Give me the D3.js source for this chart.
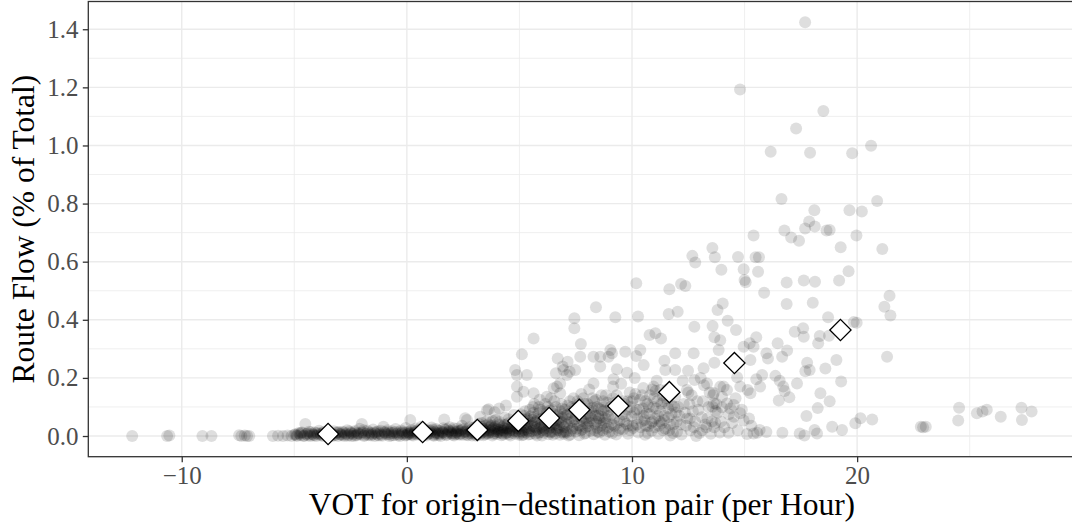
<!DOCTYPE html>
<html>
<head>
<meta charset="utf-8">
<script src="https://cdn.jsdelivr.net/npm/d3@7"></script>
<style>
  html, body { margin: 0; padding: 0; background: #fff; }
  svg { display: block; }
</style>
</head>
<body>
<svg id="chart" width="1072" height="530"></svg>
<script>
// Axis ticks
const xTicks = [-10, 0, 10, 20];
const xMinorTicks = [-5, 5, 15, 25];
const yTicks = [0, 0.2, 0.4, 0.6, 0.8, 1.0, 1.2, 1.4];
const yMinorTicks = [0.1, 0.3, 0.5, 0.7, 0.9, 1.1, 1.3];

// Origin-destination pairs: [VOT per hour, route flow % of total]
// Pairs with negative VOT
const negVotPairs = [
  [-12.2,0],[-10.65,0],[-10.55,0.002],[-9.08,0],[-8.68,0],[-7.45,0.003],[-7.35,0],[-7.2,0.002],[-7.1,0],[-7.0,0],
  [-5.95,0],[-5.72,0.001],[-5.5,0],[-5.3,0.002],[-5.12,0],[-5.0,0.004],
  [-4.95,0.006],[-4.88,0],[-4.8,0.01],[-4.72,0.003],[-4.65,0.012],[-4.6,0],[-4.51,0.041],[-4.47,0.007],[-4.4,0.002],
  [-4.35,0.015],[-4.28,0],[-4.2,0.008],[-4.15,0.004],[-4.08,0.012],[-4.02,0],[-3.95,0.006],[-3.9,0.018],[-3.82,0.002],
  [-3.75,0.01],[-3.7,0],[-3.62,0.005],[-3.55,0.014],[-3.48,0.002],[-3.4,0.009],[-3.33,0],[-3.25,0.016],[-3.18,0.004],
  [-3.1,0.011],[-3.05,0],[-2.98,0.007],[-2.9,0.003],[-2.85,0.015],[-2.78,0],[-2.7,0.009],[-2.65,0.02],[-2.58,0.004],
  [-2.5,0.012],[-2.45,0],[-2.38,0.007],[-2.3,0.017],[-2.25,0.002],[-2.18,0.01],[-2.1,0.025],[-2.05,0.005],[-2.0,0.041],
  [-1.95,0.013],[-1.9,0],[-1.82,0.008],[-1.75,0.019],[-1.7,0.003],[-1.62,0.011],[-1.55,0.006],[-1.5,0.022],[-1.42,0],
  [-1.35,0.014],[-1.3,0.004],[-1.22,0.009],[-1.15,0.018],[-1.1,0.001],[-1.04,0.032],[-0.98,0.012],[-0.9,0.005],
  [-0.85,0.02],[-0.78,0],[-0.7,0.01],[-0.65,0.016],[-0.58,0.003],[-0.5,0.024],[-0.45,0.008],[-0.38,0.013],[-0.3,0],
  [-0.25,0.019],[-0.18,0.006],[-0.1,0.011],[-0.05,0.028],
  [-3.3,0.006],[-3.0,0.013],[-2.75,0.004],[-2.55,0.016],[-2.35,0.001],[-2.15,0.008],[-1.92,0.02],[-1.68,0.007],
  [-1.45,0.012],[-1.25,0.002],[-1.0,0.015],[-0.8,0.006],[-0.6,0.01],[-0.4,0.002],[-0.2,0.015],[-4.75,0.007],
  [-4.3,0.005],[-3.85,0.009],
  [-4.9,0.003],[-4.7,0.011],[-4.55,0.001],[-4.42,0.009],[-4.25,0.014],[-4.12,0.002],[-3.98,0.01],[-3.8,0.005],
  [-3.68,0.015],[-3.52,0.004],[-3.38,0.01],[-3.22,0.002],[-3.08,0.014],[-2.92,0.006],[-2.8,0.012],[-2.62,0.001],
  [-2.48,0.009],[-2.32,0.013],[-2.2,0.004],[-2.02,0.011],[-1.88,0.003],[-1.72,0.014],[-1.58,0.002],[-1.4,0.009],
  [-1.28,0.016],[-1.12,0.004],[-0.95,0.009],[-0.82,0.013],[-0.68,0.002],[-0.52,0.014],[-0.35,0.006],[-0.22,0.01],
  [-0.08,0.002]
];

// Pairs with VOT from 0 to 7
const lowVotPairs = [
  [0.0,0.003],[0.05,0.015],[0.1,0.007],[0.15,0.055],[0.2,0.02],[0.28,0.002],[0.33,0.011],[0.4,0.026],[0.45,0.005],
  [0.52,0.016],[0.58,0.009],[0.65,0.032],[0.7,0.001],[0.78,0.013],[0.85,0.021],[0.9,0.006],[0.97,0.017],[1.05,0.01],
  [1.1,0.029],[1.18,0.003],[1.25,0.014],[1.3,0.024],[1.38,0.008],[1.45,0.018],[1.5,0],[1.58,0.012],[1.66,0.057],
  [1.7,0.022],[1.78,0.005],[1.85,0.016],[1.9,0.03],[1.98,0.009],[2.05,0.019],[2.1,0.002],[2.18,0.013],[2.25,0.026],
  [2.3,0.007],[2.38,0.017],[2.45,0.035],[2.5,0.004],[2.59,0.061],[2.62,0.014],[2.7,0.023],[2.75,0.009],[2.82,0.018],
  [2.9,0.002],[2.95,0.028],[2.67,0.055],
  [0.12,0.009],[0.35,0.018],[0.6,0.004],[0.82,0.012],[1.02,0.02],[1.22,0.006],[1.42,0.01],[1.62,0.027],[1.82,0.011],
  [2.02,0.004],[2.22,0.015],[2.42,0.021],[2.65,0.004],[2.85,0.011],
  [0.08,0.012],[0.22,0.004],[0.38,0.015],[0.5,0.008],[0.68,0.019],[0.75,0.003],[0.92,0.011],[1.08,0.016],[1.2,0.001],
  [1.35,0.02],[1.48,0.007],[1.6,0.013],[1.75,0.003],[1.88,0.019],[2.0,0.01],[2.15,0.006],[2.28,0.018],[2.4,0.009],
  [2.55,0.013],[2.72,0.003],[2.88,0.02],
  [0.02,0.006],[0.18,0.013],[0.3,0.007],[0.48,0.021],[0.62,0.012],[0.75,0.024],[0.88,0.002],[1.0,0.008],[1.15,0.022],
  [1.28,0.01],[1.4,0.003],[1.55,0.016],[1.68,0.008],[1.8,0.024],[1.95,0.015],[2.08,0.027],[2.2,0.009],[2.35,0.004],
  [2.48,0.024],[2.6,0.016],[2.78,0.03],[2.92,0.008],
  [3.0,0.012],[3.05,0.03],[3.1,0.005],[3.15,0.019],[3.2,0.042],[3.26,0.066],[3.3,0.01],[3.35,0.025],[3.4,0.003],
  [3.45,0.016],[3.5,0.036],[3.56,0.089],[3.6,0.008],[3.63,0.092],[3.65,0.021],[3.7,0.047],[3.75,0.013],[3.8,0.002],
  [3.85,0.028],[3.9,0.017],[3.95,0.055],[4.0,0.007],[4.05,0.022],[4.1,0.038],[4.15,0.011],[4.2,0.003],[4.25,0.031],
  [4.3,0.018],[4.35,0.063],[4.4,0.009],[4.45,0.024],[4.5,0.044],[4.55,0.014],[4.6,0.002],[4.65,0.034],[4.7,0.019],
  [4.75,0.072],[4.8,0.008],[4.85,0.027],[4.9,0.05],[4.95,0.015],
  [3.08,0.001],[3.28,0.018],[3.48,0.006],[3.68,0.03],[3.88,0.01],[4.08,0.015],[4.28,0.005],[4.48,0.027],[4.68,0.011],
  [4.88,0.04],[3.38,0.012],[3.78,0.022],[4.18,0.026],[4.58,0.02],[4.98,0.004],
  [3.02,0.022],[3.12,0.035],[3.22,0.012],[3.32,0.045],[3.42,0.025],[3.52,0.01],[3.62,0.04],[3.72,0.018],[3.82,0.052],
  [3.92,0.033],[4.02,0.014],[4.12,0.048],[4.22,0.02],[4.32,0.038],[4.42,0.012],[4.52,0.058],[4.62,0.028],[4.72,0.04],
  [4.82,0.016],[4.92,0.062],
  [3.04,0.008],[3.14,0.026],[3.24,0.004],[3.34,0.032],[3.44,0.02],[3.54,0.05],[3.64,0.012],[3.74,0.035],[3.84,0.007],
  [3.94,0.024],[4.04,0.044],[4.14,0.02],[4.24,0.01],[4.34,0.027],[4.44,0.04],[4.54,0.006],[4.64,0.022],[4.74,0.05],
  [4.84,0.032],[4.94,0.025],
  [5.0,0.01],[5.05,0.035],[5.1,0.003],[5.15,0.058],[5.2,0.02],[5.25,0.085],[5.3,0.012],[5.35,0.042],[5.4,0.005],
  [5.45,0.027],[5.5,0.068],[5.55,0.016],[5.6,0.1],[5.65,0.033],[5.7,0.008],[5.75,0.051],[5.8,0.022],[5.85,0.078],
  [5.9,0.013],[5.95,0.04],[6.0,0.002],[6.05,0.062],[6.1,0.025],[6.15,0.11],[6.2,0.017],[6.25,0.046],[6.3,0.006],
  [6.35,0.088],[6.4,0.03],[6.45,0.015],[6.5,0.055],[6.55,0.12],[6.6,0.009],[6.65,0.038],[6.7,0.072],[6.75,0.021],
  [6.8,0.004],[6.85,0.049],[6.9,0.095],[6.95,0.014],
  [5.08,0.016],[5.28,0.03],[5.48,0.007],[5.68,0.045],[5.88,0.026],[6.08,0.011],[6.28,0.035],[6.48,0.004],[6.68,0.02],
  [6.88,0.065],[5.18,0.004],[5.38,0.018],[5.58,0.055],[5.78,0.002],[5.98,0.03],[6.18,0.068],[6.38,0.012],[6.58,0.042],
  [6.78,0.028],[6.98,0.008],
  [5.02,0.025],[5.12,0.045],[5.22,0.07],[5.32,0.022],[5.42,0.052],[5.52,0.035],[5.62,0.08],[5.72,0.02],[5.82,0.06],
  [5.92,0.09],[6.02,0.035],[6.12,0.05],[6.22,0.08],[6.32,0.025],[6.42,0.065],[6.52,0.04],[6.62,0.1],[6.72,0.05],
  [6.82,0.085],[6.92,0.035],
  [5.04,0.05],[5.14,0.012],[5.24,0.04],[5.34,0.06],[5.44,0.015],[5.54,0.045],[5.64,0.065],[5.74,0.03],[5.84,0.01],
  [5.94,0.058],[6.04,0.02],[6.14,0.04],[6.24,0.058],[6.34,0.015],[6.44,0.045],[6.54,0.075],[6.64,0.025],[6.74,0.06],
  [6.84,0.012],[6.94,0.075],
  [5.06,0.075],[5.26,0.055],[5.46,0.09],[5.66,0.11],[5.86,0.1],[6.06,0.085],[6.26,0.1],[6.46,0.09],[6.66,0.055],
  [6.86,0.11],
  [4.81,0.227],[4.89,0.21],[5.33,0.21],[4.89,0.17],[5.18,0.152],[5.11,0.281],[5.63,0.336],[6.70,0.267],[6.92,0.239],
  [6.62,0.216],[6.67,0.17],[6.22,0.135],[6.81,0.147],[6.96,0.227],[4.89,0.135],[5.63,0.147],[6.52,0.164],[6.81,0.181],
  [5.9,0.125],[4.4,0.105],[4.1,0.095],[3.9,0.082],[6.4,0.13]
];

// Pairs with VOT from 7 to 14
const midVotPairs = [
  [7.0,0.03],[7.05,0.07],[7.1,0.012],[7.15,0.105],[7.2,0.045],[7.25,0.004],[7.3,0.082],[7.35,0.025],[7.4,0.13],
  [7.45,0.058],[7.5,0.015],[7.55,0.092],[7.6,0.038],[7.65,0.003],[7.7,0.066],[7.75,0.145],[7.8,0.022],[7.85,0.05],
  [7.9,0.11],[7.95,0.01],[8.0,0.076],[8.05,0.034],[8.1,0.16],[8.15,0.018],[8.2,0.06],[8.25,0.098],[8.3,0.006],
  [8.35,0.042],[8.4,0.125],[8.45,0.028],[8.5,0.071],[8.55,0.012],[8.6,0.054],[8.65,0.14],[8.7,0.02],[8.75,0.087],
  [8.8,0.004],[8.85,0.046],[8.9,0.115],[8.95,0.031],
  [7.08,0.05],[7.28,0.018],[7.48,0.075],[7.68,0.035],[7.88,0.008],[8.08,0.052],[8.28,0.088],[8.48,0.015],[8.68,0.065],
  [8.88,0.025],[7.18,0.002],[7.58,0.12],[7.98,0.044],[8.38,0.07],[8.78,0.1],
  [7.02,0.09],[7.12,0.04],[7.22,0.06],[7.32,0.1],[7.42,0.035],[7.52,0.07],[7.62,0.09],[7.72,0.02],[7.82,0.085],
  [7.92,0.06],[8.02,0.11],[8.12,0.045],[8.22,0.08],[8.32,0.12],[8.42,0.05],[8.52,0.095],[8.62,0.035],[8.72,0.12],
  [8.82,0.06],[8.92,0.085],
  [7.04,0.015],[7.14,0.075],[7.24,0.12],[7.34,0.05],[7.44,0.095],[7.54,0.025],[7.64,0.11],[7.74,0.06],[7.84,0.13],
  [7.94,0.03],[8.04,0.095],[8.14,0.07],[8.24,0.13],[8.34,0.02],[8.44,0.1],[8.54,0.06],[8.64,0.09],[8.74,0.045],
  [8.84,0.14],[8.94,0.07],
  [9.0,0.015],[9.08,0.072],[9.15,0.13],[9.22,0.035],[9.3,0.005],[9.38,0.095],[9.45,0.055],[9.52,0.18],[9.6,0.022],
  [9.68,0.11],[9.75,0.042],[9.82,0.008],[9.9,0.15],[9.98,0.068],[10.05,0.028],[10.12,0.2],[10.2,0.09],[10.28,0.012],
  [10.35,0.125],[10.42,0.05],[10.5,0.165],[10.58,0.004],[10.65,0.078],[10.72,0.034],[10.8,0.14],[10.88,0.018],
  [10.95,0.1],[11.02,0.06],[11.1,0.19],[11.18,0.008],[11.25,0.085],[11.32,0.045],[11.4,0.12],[11.48,0.025],
  [11.55,0.16],[11.62,0.065],[11.7,0.002],[11.78,0.105],[11.85,0.04],[11.92,0.135],[12.0,0.015],
  [9.12,0.01],[9.35,0.045],[9.58,0.075],[9.8,0.12],[10.02,0.035],[10.25,0.06],[10.48,0.095],[10.7,0.01],[10.92,0.05],
  [11.15,0.07],[11.38,0.02],[11.6,0.095],[11.82,0.01],[10.15,0.145],[10.6,0.12],[11.05,0.155],
  [9.05,0.1],[9.2,0.06],[9.32,0.14],[9.48,0.025],[9.62,0.12],[9.72,0.07],[9.85,0.035],[9.95,0.1],[10.08,0.13],
  [10.22,0.04],[10.32,0.09],[10.45,0.14],[10.55,0.055],[10.68,0.11],[10.78,0.075],[10.9,0.16],[11.0,0.03],
  [11.12,0.12],[11.22,0.05],[11.35,0.14],[11.45,0.07],[11.58,0.11],[11.68,0.04],[11.8,0.15],[11.95,0.08],
  [9.1,0.04],[9.25,0.115],[9.4,0.02],[9.55,0.1],[9.65,0.05],[9.78,0.09],[9.92,0.02],[10.0,0.12],[10.1,0.08],
  [10.38,0.03],[10.52,0.07],[10.62,0.035],[10.75,0.1],[10.85,0.045],[10.98,0.13],[11.08,0.095],[11.2,0.035],
  [11.3,0.11],[11.42,0.055],[11.52,0.13],[11.65,0.02],[11.75,0.075],[11.88,0.1],[11.98,0.05],
  [12.1,0.07],[12.2,0.005],[12.3,0.11],[12.4,0.035],[12.5,0.15],[12.6,0.02],[12.7,0.085],[12.8,0.05],[12.9,0.12],
  [13.0,0.01],[13.1,0.065],[13.2,0.175],[13.3,0.03],[13.4,0.1],[13.5,0.008],[13.6,0.14],[13.7,0.045],[13.8,0.08],
  [13.9,0.012],[12.25,0.19],[12.65,0.14],[13.05,0.2],[13.45,0.15],[12.45,0.06],[12.85,0.0],[13.25,0.04],[13.65,0.03],
  [13.64,0.148],[13.64,0.113],[13.57,0.101],[13.71,0.086],
  [12.05,0.1],[12.15,0.04],[12.35,0.08],[12.55,0.11],[12.75,0.03],[12.95,0.09],[13.15,0.12],[13.35,0.06],
  [13.55,0.05],[13.75,0.11],[13.95,0.05],[12.58,0.06],[13.12,0.02],
  [7.44,0.405],[7.44,0.371],[7.73,0.317],[7.70,0.273],[7.48,0.227],[8.29,0.273],[8.59,0.273],[8.96,0.273],[9.04,0.296],
  [8.59,0.239],[7.11,0.21],[7.23,0.221],[7.14,0.256],[8.40,0.443],[9.11,0.285],[8.29,0.181],[9.18,0.195],[9.16,0.17],
  [9.33,0.23],[9.78,0.218],[9.70,0.29],[10.37,0.296],[10.19,0.275],[10.52,0.244],[9.26,0.409],[10.27,0.411],
  [10.78,0.348],[11.04,0.354],[11.29,0.336],[11.44,0.259],[11.92,0.285],[11.92,0.227],[11.48,0.227],[12.49,0.225],
  [12.74,0.285],[12.78,0.193],[13.18,0.233],[13.66,0.252],[13.85,0.296],[13.92,0.33],[10.96,0.17],[11.26,0.158],
  [12.44,0.158],[13.33,0.181],[13.92,0.17],[11.63,0.42],[12.03,0.428],[12.77,0.376],[13.58,0.379],[13.8,0.434],
  [13.66,0.34],[10.19,0.526],[11.66,0.505],[12.18,0.523],[12.37,0.516],[12.68,0.62],[12.81,0.597],[13.57,0.647],
  [13.68,0.615],[13.97,0.572]
];

// Pairs with VOT from 14 to 22
const highVotPairs = [
  [17.69,1.424],[14.80,1.193],[18.50,1.119],[17.29,1.058],[16.16,0.978],[17.91,0.975],[19.78,0.973],[20.62,0.999],
  [16.64,0.816],[18.10,0.777],[19.66,0.777],[20.21,0.773],[20.89,0.809],[17.87,0.738],[18.12,0.721],[17.69,0.714],
  [16.77,0.707],[17.07,0.683],[17.42,0.672],[18.64,0.707],[18.78,0.709],[19.97,0.690],[19.27,0.650],[21.12,0.644],
  [15.40,0.690],[14.71,0.616],[15.49,0.615],[15.64,0.615],[14.96,0.574],[15.60,0.565],[19.62,0.567],
  [15.0,0.537],[15.05,0.529],[16.87,0.528],[17.63,0.535],[18.13,0.531],[19.20,0.535],[15.87,0.493],[21.44,0.483],
  [16.87,0.454],[18.03,0.459],[14.03,0.456],[21.21,0.445],[21.48,0.415],[18.71,0.409],[19.85,0.392],[19.98,0.390],
  [14.25,0.397],[14.62,0.365],[17.23,0.359],[17.60,0.371],[17.63,0.342],[18.34,0.344],[18.75,0.345],[18.27,0.319],
  [15.52,0.340],[15.23,0.319],[14.96,0.307],[15.40,0.307],[16.47,0.319],[16.89,0.294],[15.97,0.285],[16.04,0.267],
  [16.67,0.273],[15.26,0.262],[17.78,0.252],[17.89,0.227],[17.70,0.223],[18.59,0.232],[19.08,0.262],[21.33,0.273],
  [19.29,0.188],[15.78,0.210],[16.37,0.207],[16.56,0.190],[17.33,0.181],[15.52,0.195],[15.69,0.170],[16.72,0.170],
  [16.78,0.155],[16.99,0.133],[16.52,0.122],[15.26,0.147],[15.14,0.158],[14.81,0.170],[14.67,0.202],[18.37,0.147],
  [18.78,0.120],[18.25,0.096],[17.75,0.069],[20.15,0.061],[20.67,0.057],[19.92,0.044],[18.89,0.032],[19.33,0.021],
  [18.11,0.021],[18.22,0.009],[17.45,0.009],[17.66,0.002],[16.68,0.011],[15.97,0.014],[15.67,0.021],[15.56,0.011],
  [15.40,0.009],[15.11,0.007],[14.29,0.011],[14.52,0.107],[14.37,0.095],[14.0,0.099],[14.22,0.112],[14.0,0.135],
  [14.07,0.17],[14.22,0.158],[14.52,0.066],[14.96,0.053],[14.81,0.078],
  [14.1,0.03],[14.45,0.045],[14.7,0.02],[14.88,0.09],[15.2,0.06],[15.3,0.035],[14.6,0.13],[14.3,0.075]
];

// Pairs with VOT above 22
const topVotPairs = [
  [22.83,0.032],[22.93,0.030],[23.05,0.032],[24.53,0.097],[24.49,0.053],[25.32,0.078],[25.57,0.084],[25.76,0.090],
  [26.38,0.066],[27.30,0.097],[27.75,0.084],[27.32,0.055]
];

// Binned averages
const binVot  = [-3.5, 0.7, 3.13, 4.95, 6.32, 7.66, 9.39, 11.66, 14.55, 19.26];
const binFlow = [0.007, 0.014, 0.021, 0.052, 0.062, 0.090, 0.103, 0.151, 0.251, 0.365];

const pairs = [].concat(negVotPairs, lowVotPairs, midVotPairs, highVotPairs, topVotPairs);
const bins = binVot.map((v, i) => [v, binFlow[i]]);

const svg = d3.select("#chart");
const panel = { left: 88.3, right: 1075.5, top: 1.5, bottom: 456.7 };

const x = d3.scaleLinear().domain([-14.15, 29.7]).range([panel.left, panel.right]);
const y = d3.scaleLinear().domain([-0.0712, 1.4955]).range([panel.bottom, panel.top]);

const serif = "'Liberation Serif', 'Times New Roman', Times, serif";

svg.append("defs").append("clipPath").attr("id", "panel-clip")
  .append("rect")
  .attr("x", panel.left).attr("y", panel.top)
  .attr("width", panel.right - panel.left).attr("height", panel.bottom - panel.top);

// Grid
const grid = svg.append("g");
grid.selectAll(".xminor").data(xMinorTicks).join("line")
  .attr("x1", d => x(d)).attr("x2", d => x(d))
  .attr("y1", panel.top).attr("y2", panel.bottom)
  .attr("stroke", "#ebebeb").attr("stroke-width", 0.8);
grid.selectAll(".yminor").data(yMinorTicks).join("line")
  .attr("x1", panel.left).attr("x2", panel.right)
  .attr("y1", d => y(d)).attr("y2", d => y(d))
  .attr("stroke", "#ebebeb").attr("stroke-width", 0.8);
grid.selectAll(".xmajor").data(xTicks).join("line")
  .attr("x1", d => x(d)).attr("x2", d => x(d))
  .attr("y1", panel.top).attr("y2", panel.bottom)
  .attr("stroke", "#ebebeb").attr("stroke-width", 1.4);
grid.selectAll(".ymajor").data(yTicks).join("line")
  .attr("x1", panel.left).attr("x2", panel.right)
  .attr("y1", d => y(d)).attr("y2", d => y(d))
  .attr("stroke", "#ebebeb").attr("stroke-width", 1.4);

// Scatter of pairs
const marks = svg.append("g").attr("clip-path", "url(#panel-clip)");
marks.append("g").selectAll("circle").data(pairs).join("circle")
  .attr("cx", d => x(d[0])).attr("cy", d => y(d[1]))
  .attr("r", 6)
  .attr("fill", "#000").attr("fill-opacity", 0.13);

// Binned averages as white diamonds
const diamond = d3.symbol().type(d3.symbolSquare).size(225);
marks.append("g").selectAll("path").data(bins).join("path")
  .attr("d", diamond)
  .attr("transform", d => `translate(${x(d[0])},${y(d[1])}) rotate(45)`)
  .attr("fill", "#fff").attr("stroke", "#000").attr("stroke-width", 1.3);

// Panel border
svg.append("rect")
  .attr("x", panel.left).attr("y", panel.top)
  .attr("width", panel.right - panel.left).attr("height", panel.bottom - panel.top)
  .attr("fill", "none").attr("stroke", "#333").attr("stroke-width", 1.3);

// Axes
const fmtX = d => d < 0 ? "\u2212" + Math.abs(d) : String(d);
const xAxis = svg.append("g")
  .attr("transform", `translate(0,${panel.bottom})`)
  .call(d3.axisBottom(x).tickValues(xTicks).tickSize(5.5).tickFormat(fmtX));
xAxis.select(".domain").remove();
xAxis.selectAll(".tick line").attr("stroke", "#333").attr("stroke-width", 1.3);
xAxis.selectAll(".tick text")
  .attr("y", 27.5).attr("dy", null)
  .attr("fill", "#4d4d4d")
  .style("font-family", serif).style("font-size", "25px");

const yAxis = svg.append("g")
  .attr("transform", `translate(${panel.left},0)`)
  .call(d3.axisLeft(y).tickValues(yTicks).tickSize(5.5).tickFormat(d3.format(".1f")));
yAxis.select(".domain").remove();
yAxis.selectAll(".tick text")
  .attr("x", -9.8)
  .attr("fill", "#4d4d4d")
  .style("font-family", serif).style("font-size", "25px");
yAxis.selectAll(".tick line").attr("stroke", "#333").attr("stroke-width", 1.3);

// Axis titles
svg.append("text")
  .attr("x", (panel.left + panel.right) / 2).attr("y", 515)
  .attr("text-anchor", "middle")
  .style("font-family", serif).style("font-size", "31.5px")
  .text("VOT for origin\u2212destination pair (per Hour)");

svg.append("text")
  .attr("transform", `translate(33.5,${(panel.top + panel.bottom) / 2}) rotate(-90)`)
  .attr("text-anchor", "middle")
  .style("font-family", serif).style("font-size", "31.5px")
  .text("Route Flow (% of Total)");
</script>
</body>
</html>
